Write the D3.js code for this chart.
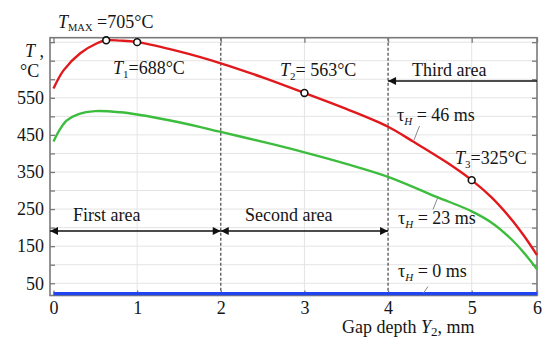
<!DOCTYPE html>
<html>
<head>
<meta charset="utf-8">
<script src="https://cdn.jsdelivr.net/npm/d3@7"></script>
<style>
  html, body { margin: 0; padding: 0; background: #fff; }
  svg text { font-family: "Liberation Serif", "Times New Roman", serif; fill: #151515; }
</style>
</head>
<body>
<svg id="chart" width="543" height="338"></svg>
<script>
// gap depth Y2 (mm) and temperature (°C)
const redDepth = [0, 0.12, 0.32, 0.52, 0.63, 0.8, 1, 1.5, 2, 2.5, 3, 3.5, 4, 4.3, 4.7, 5, 5.3, 5.6, 5.8, 6];
const redTemp = [575, 624, 670, 697, 705, 704, 700, 675, 643, 605, 563, 520, 472, 432, 376, 328, 282, 224, 178, 126];

const greenDepth = [0, 0.08, 0.16, 0.3, 0.5, 0.8, 1, 1.5, 2, 2.58, 3, 3.5, 4, 4.58, 5, 5.3, 5.6, 5.8, 6];
const greenTemp = [432, 466, 489, 506, 514, 511, 505, 484, 458, 427, 403, 372, 337, 283, 244, 214, 170, 132, 88];

const blueDepth = [0, 6];
const blueTemp = [22, 22];

// marked points T_MAX, T1, T2, T3
const pointDepth = [0.63, 1, 3, 5];
const pointTemp = [705, 700, 563, 328];

const xTickValues = [0, 1, 2, 3, 4, 5, 6];
const yTickValues = [50, 100, 150, 200, 250, 300, 350, 400, 450, 500, 550, 600, 650, 700];
const yTickLabels = [50, 150, 250, 350, 450, 550];
const areaBounds = [2, 4];

const svg = d3.select("#chart");

const frame = { left: 50, right: 537, top: 37.7, bottom: 295.5 };

// the picture's last interval (5..6) is narrower than the others
const x = d3.scaleLinear().domain([0, 5, 6]).range([53.5, 471.7, 537]);
const y = d3.scaleLinear().domain([17, 712]).range([frame.bottom, frame.top]);

const gridColor = "#e4e4e4";
const axisColor = "#7a7a7a";

// grid
svg.append("g")
  .selectAll("line")
  .data(yTickValues)
  .join("line")
  .attr("x1", frame.left).attr("x2", frame.right)
  .attr("y1", d => y(d)).attr("y2", d => y(d))
  .attr("stroke", gridColor).attr("stroke-width", 1);

svg.append("g")
  .selectAll("line")
  .data(xTickValues.filter(d => d > 0 && d < 6 && areaBounds.indexOf(d) < 0))
  .join("line")
  .attr("x1", d => x(d)).attr("x2", d => x(d))
  .attr("y1", frame.top).attr("y2", frame.bottom)
  .attr("stroke", gridColor).attr("stroke-width", 1);

// dashed area borders
svg.append("g")
  .selectAll("line")
  .data(areaBounds)
  .join("line")
  .attr("x1", d => x(d)).attr("x2", d => x(d))
  .attr("y1", frame.top).attr("y2", frame.bottom)
  .attr("stroke", "#444").attr("stroke-width", 1.2)
  .attr("stroke-dasharray", "3,2");

// axes with inward ticks
const fontSize = 18;

const bottomAxis = d3.axisBottom(x).tickValues(xTickValues).tickFormat(d3.format("d"))
  .tickSizeInner(-5).tickSizeOuter(0).tickPadding(6);
const gb = svg.append("g").attr("transform", "translate(0," + frame.bottom + ")").call(bottomAxis);

const leftAxis = d3.axisLeft(y).tickValues(yTickValues).tickSizeInner(-5).tickSizeOuter(0).tickPadding(6)
  .tickFormat(d => yTickLabels.indexOf(d) >= 0 ? d : "");
const gl = svg.append("g").attr("transform", "translate(" + frame.left + ",0)").call(leftAxis);

const gt = svg.append("g").attr("transform", "translate(0," + frame.top + ")")
  .call(d3.axisTop(x).tickValues(xTickValues).tickSizeInner(-5).tickSizeOuter(0).tickFormat(""));
const gr = svg.append("g").attr("transform", "translate(" + frame.right + ",0)")
  .call(d3.axisRight(y).tickValues(yTickValues).tickSizeInner(-5).tickSizeOuter(0).tickFormat(""));

[gb, gl, gt, gr].forEach(g => {
  g.select(".domain").remove();
  g.selectAll(".tick line").attr("stroke", axisColor).attr("stroke-width", 1.3);
  g.selectAll(".tick text")
    .attr("font-size", fontSize)
    .attr("font-family", "Liberation Serif, Times New Roman, serif")
    .attr("fill", "#151515");
});

svg.append("rect")
  .attr("x", frame.left).attr("y", frame.top)
  .attr("width", frame.right - frame.left).attr("height", frame.bottom - frame.top)
  .attr("fill", "none").attr("stroke", axisColor).attr("stroke-width", 1.6);

// curves
const line = d3.line().x(d => x(d[0])).y(d => y(d[1])).curve(d3.curveCatmullRom.alpha(0.5));

svg.append("path")
  .datum(d3.zip(blueDepth, blueTemp))
  .attr("d", line).attr("fill", "none")
  .attr("stroke", "#1f44f2").attr("stroke-width", 3.2);

svg.append("path")
  .datum(d3.zip(greenDepth, greenTemp))
  .attr("d", line).attr("fill", "none")
  .attr("stroke", "#3dbd3d").attr("stroke-width", 2.4);

svg.append("path")
  .datum(d3.zip(redDepth, redTemp))
  .attr("d", line).attr("fill", "none")
  .attr("stroke", "#e2191c").attr("stroke-width", 2.4);

svg.append("g")
  .selectAll("circle")
  .data(d3.zip(pointDepth, pointTemp))
  .join("circle")
  .attr("cx", d => x(d[0])).attr("cy", d => y(d[1]))
  .attr("r", 3.4)
  .attr("fill", "#fff").attr("stroke", "#111").attr("stroke-width", 1.6);

// arrows
const defs = svg.append("defs");
defs.append("marker")
  .attr("id", "arrowHead")
  .attr("viewBox", "0 0 10 10")
  .attr("refX", 10).attr("refY", 5)
  .attr("markerUnits", "userSpaceOnUse")
  .attr("markerWidth", 9).attr("markerHeight", 8)
  .attr("orient", "auto-start-reverse")
  .append("path").attr("d", "M0,0 L10,5 L0,10 Z").attr("fill", "#111");

function arrow(x1, x2, yy, both) {
  const l = svg.append("line")
    .attr("x1", x1).attr("x2", x2).attr("y1", yy).attr("y2", yy)
    .attr("stroke", "#111").attr("stroke-width", 1.5)
    .attr("marker-end", "url(#arrowHead)");
  if (both) l.attr("marker-start", "url(#arrowHead)");
}

arrow(frame.right, x(4), 81, false);
arrow(frame.left, x(2), 231, true);
arrow(x(2), x(4), 231, true);

// leader lines
const leaders = [
  [419.5, 126, 414, 140],
  [438, 197, 433, 209.5],
  [428, 286.5, 423.5, 293]
];
svg.append("g")
  .selectAll("line")
  .data(leaders)
  .join("line")
  .attr("x1", d => d[0]).attr("y1", d => d[1])
  .attr("x2", d => d[2]).attr("y2", d => d[3])
  .attr("stroke", "#8a8a8a").attr("stroke-width", 1);

// text with italic / subscript parts
function rich(px, py, parts) {
  const t = svg.append("text").attr("x", px).attr("y", py).attr("font-size", fontSize);
  let shift = 0;
  parts.forEach(p => {
    const s = t.append("tspan").text(p.text);
    if (p.italic) s.attr("font-style", "italic");
    const target = p.sub ? p.sub : 0;
    if (target !== shift) { s.attr("dy", target - shift); shift = target; }
    if (p.size) s.attr("font-size", p.size);
  });
  return t;
}

rich(58, 27.5, [
  { text: "T", italic: true },
  { text: "MAX", sub: 3.2, size: 10.5 },
  { text: " =705°C" }
]);
rich(113, 74, [
  { text: "T", italic: true },
  { text: "1", sub: 3.5, size: 11 },
  { text: "=688°C" }
]);
rich(280, 76, [
  { text: "T", italic: true },
  { text: "2", sub: 3.5, size: 11 },
  { text: "= 563°C" }
]);
rich(412, 76, [{ text: "Third area" }]);
rich(455, 164, [
  { text: "T", italic: true },
  { text: "3", sub: 3.5, size: 11 },
  { text: "=325°C" }
]);
rich(397, 120.7, [
  { text: "τ" },
  { text: "H", italic: true, sub: 4, size: 11 },
  { text: " = 46 ms" }
]);
rich(398, 224, [
  { text: "τ" },
  { text: "H", italic: true, sub: 4, size: 11 },
  { text: " = 23 ms" }
]);
rich(398, 277, [
  { text: "τ" },
  { text: "H", italic: true, sub: 4, size: 11 },
  { text: " = 0 ms" }
]);
rich(73, 221, [{ text: "First area" }]);
rich(245, 221, [{ text: "Second area" }]);

rich(25, 57, [{ text: "T", italic: true }, { text: " ," }]);
rich(20, 77, [{ text: "°C" }]);

rich(342, 333, [
  { text: "Gap depth " },
  { text: "Y", italic: true },
  { text: "2", sub: 3, size: 13 },
  { text: ", mm" }
]);
</script>
</body>
</html>
